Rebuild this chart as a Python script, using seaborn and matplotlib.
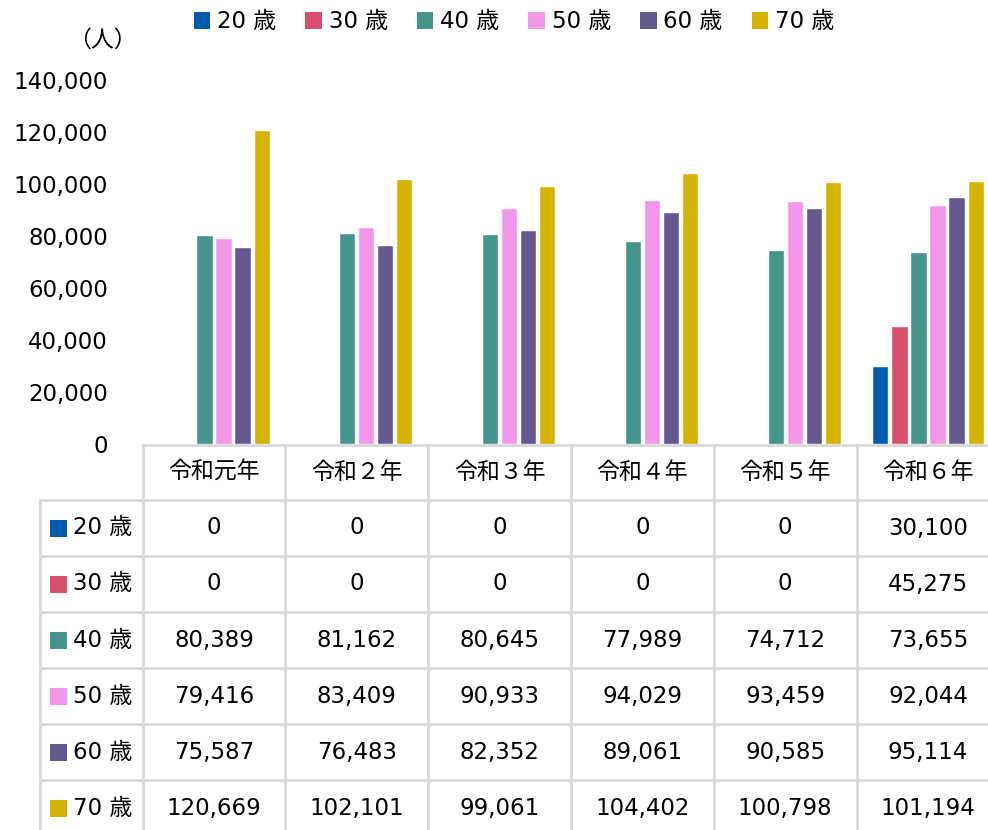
import matplotlib
matplotlib.use("Agg")
import matplotlib.pyplot as plt
import matplotlib.patches as patches
from matplotlib.lines import Line2D
import seaborn as sns
import pandas as pd

# data
years = ["令和元年", "令和２年", "令和３年", "令和４年", "令和５年", "令和６年"]
ages = ["20 歳", "30 歳", "40 歳", "50 歳", "60 歳", "70 歳"]
age20 = [0, 0, 0, 0, 0, 30100]
age30 = [0, 0, 0, 0, 0, 45275]
age40 = [80389, 81162, 80645, 77989, 74712, 73655]
age50 = [79416, 83409, 90933, 94029, 93459, 92044]
age60 = [75587, 76483, 82352, 89061, 90585, 95114]
age70 = [120669, 102101, 99061, 104402, 100798, 101194]
colors = ["#005bac", "#d94f6e", "#45958e", "#f397eb", "#63598e", "#d6b300"]

series = [age20, age30, age40, age50, age60, age70]
rows = []
for age, vals in zip(ages, series):
    for yr, v in zip(years, vals):
        rows.append({"year": yr, "age": age, "value": v})
df = pd.DataFrame(rows)

sns.set_theme(style="white")
plt.rcParams['font.family'] = ['DejaVu Sans', 'Noto Sans CJK JP']
plt.rcParams['text.color'] = 'black'
plt.rcParams['ytick.color'] = 'black'
plt.rcParams['ytick.labelcolor'] = 'black'
FS = 16.5

W, H = 988, 830
fig = plt.figure(figsize=(W / 100, H / 100), dpi=100)

def fx(px):
    return px / W

def fy(py):
    return 1 - py / H

ax_left, ax_right, ax_top, ax_bottom = 142.6, 999.4, 80, 444
ax = fig.add_axes([fx(ax_left), fy(ax_bottom), fx(ax_right - ax_left), (ax_bottom - ax_top) / H])
sns.barplot(data=df, x="year", y="value", hue="age", hue_order=ages, palette=colors,
            width=0.8, gap=0.15, legend=False, ax=ax, saturation=1)
ax.set_ylim(0, 140000)
ax.set_xlim(-0.5, 5.5)
ax.set_yticks(range(0, 140001, 20000))
ax.set_yticklabels([f"{v:,}" for v in range(0, 140001, 20000)], fontsize=FS)
ax.tick_params(axis="y", length=0, pad=25)
ax.set_xticks([])
ax.set_xlabel("")
ax.set_ylabel("")
for s in ax.spines.values():
    s.set_visible(False)
ax.patch.set_alpha(0)

fig.text(fx(102), fy(40), "（人）", fontsize=FS, ha="center", va="center")

# legend
handles = [patches.Patch(facecolor=c, edgecolor="none") for c in colors]
fig.legend(handles, ages, loc="center", bbox_to_anchor=(fx(514), fy(22)), ncol=6,
           frameon=False, fontsize=FS, handlelength=0.72, handleheight=0.72,
           handletextpad=0.3, columnspacing=1.27)

# data table
grid = "#d9d9d9"
col_w = (ax_right - ax_left) / 6
col_x = [ax_left + i * col_w for i in range(7)]
header_top, header_bot = 445, 500
row_h = 56
row_y = [header_bot + i * row_h for i in range(7)]
lab_left = 40

def hline(y, x0, x1):
    fig.add_artist(Line2D([fx(x0), fx(x1)], [fy(y), fy(y)], color=grid, lw=2))

def vline(x, y0, y1):
    fig.add_artist(Line2D([fx(x), fx(x)], [fy(y0), fy(y1)], color=grid, lw=2))

hline(header_top, ax_left, W + 20)
for y in row_y:
    hline(y, lab_left, W + 20)
for x in col_x:
    vline(x, header_top, H + 10)
vline(lab_left, header_bot, H + 10)

for i, yr in enumerate(years):
    fig.text(fx(col_x[i] + col_w / 2), fy((header_top + header_bot) / 2), yr,
             fontsize=FS, ha="center", va="center")

for r, (age, vals, c) in enumerate(zip(ages, series, colors)):
    yc = row_y[r] + row_h / 2
    fig.add_artist(patches.Rectangle((fx(50), fy(yc + 8.5)), fx(17), 17 / H,
                                     facecolor=c, edgecolor="none"))
    fig.text(fx(73), fy(yc), age, fontsize=FS, ha="left", va="center")
    for i, v in enumerate(vals):
        fig.text(fx(col_x[i] + col_w / 2), fy(yc), f"{v:,}", fontsize=FS,
                 ha="center", va="center")

fig.savefig("out.png", dpi=100)
